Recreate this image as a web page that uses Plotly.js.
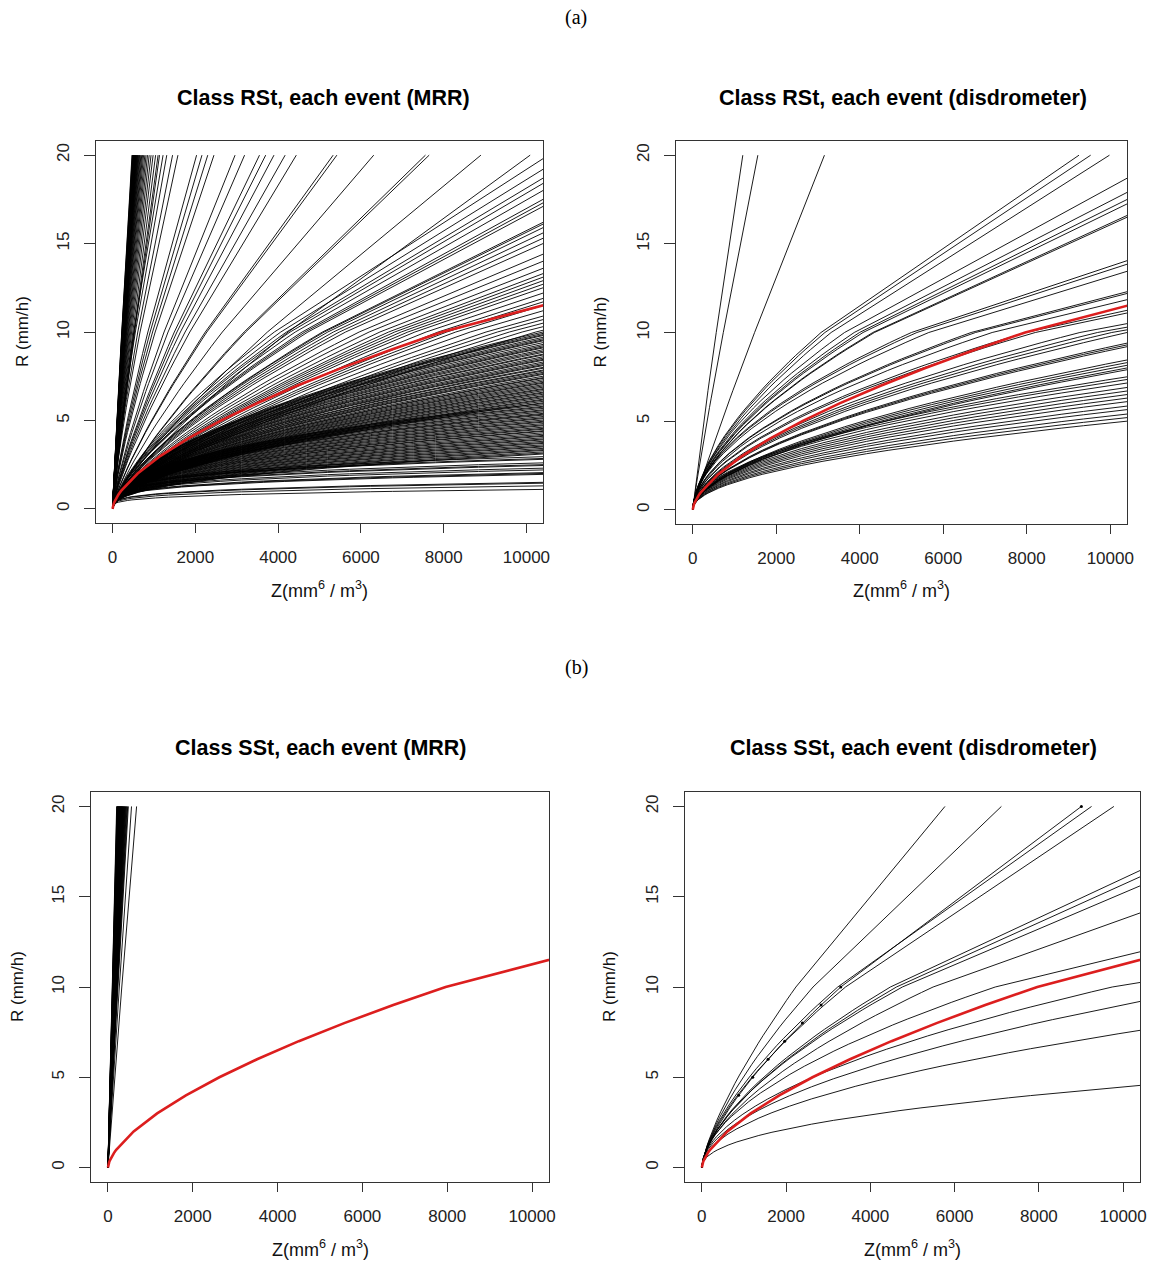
<!DOCTYPE html>
<html><head><meta charset="utf-8">
<script src="https://cdn.plot.ly/plotly-3.0.1.min.js"></script>
<style>body{margin:0;background:#fff}</style>
</head><body><div id="chart" style="width:1152px;height:1271px"></div>
<script>
// ---------- reference relation (red): Z = a R^b (Marshall-Palmer), drawn through these R values ----------
const refA = 200, refB = 1.6;
const refR = [0,0.1,0.2,0.3,0.4,0.5,0.6,0.7,0.8,0.9,1,2,3,4,5,6,7,8,9,10,20];

// ---------- (a) left: Class RSt, each event (MRR) ----------
// Z at which an event curve reaches R = 20
const rstMrrTopSteep = [470,478,486,494,500,506,512,518,524,530,537,544,550,556,563,570,578,586,595,604,614,625,638,652,668,685,705,725,750,780,810,845,885,930,980,1040,1100,1135];
const rstMrrTopMid = [1220,1310,1450,1580,2030,2160,2300,2450,2960,3190,3550,3700,3900,4170,4440,5330,5420,6310,7560,7650,8900,10090];
// R at the right edge of the plot (Z = 10400)
const rstMrrEdgeHigh = [19.8,19.2,18.7,18.4,18.0,17.5,17.3,17.1,16.2,16.1,15.9,15.6,15.3,15.0,14.4,14.0,13.6,13.3,13.1,12.9,12.7,12.5,12.2,11.9,11.7,11.5,11.2,10.9,10.7,10.5,10.3,10.1];
const rstMrrEdgeMid = [10.0,9.92,9.85,9.8,9.7,9.62,9.55,9.5,9.4,9.3,9.22,9.15,9.1,9.0,8.92,8.85,8.75,8.7,8.6,8.52,8.45,8.4,8.3,8.22,8.15,8.1,8.0,7.95,7.85,7.8,7.72,7.65,7.6,7.5,7.42,7.38,7.3,7.22,7.15,7.1,7.02,6.95,6.88,6.8,6.75,6.68,6.6,6.55,6.48,6.4,6.35,6.28,6.2,6.15,6.08,6.0];
const rstMrrEdgeLow = [5.95,5.88,5.8,5.75,5.68,5.6,5.55,5.48,5.4,5.35,5.3,5.22,5.15,5.1,5.02,4.95,4.9,4.82,4.75,4.7,4.62,4.55,4.5,4.42,4.38,4.3,4.22,4.15,4.1,4.02,3.95,3.9,3.82,3.75,3.7,3.62,3.55,3.5,3.42,3.35,3.3,3.22,3.15,3.1];
const rstMrrEdgeBottom = [2.95,2.85,2.8,2.6,2.5,2.45,2.3,2.2,2.05,2.0,1.95,1.5,1.45,1.3,1.1];
// exponent b of Z = a R^b for each group
const rstMrrB = {topSteep:1.09, topMid:1.25, high:1.43, mid:1.8, low:2.35, bottom:4.0};

// ---------- (a) right: Class RSt, each event (disdrometer) ----------
const rstDisTopSteep = [1200,1560,3155];
const rstDisTopMid = [9250,9530,9980];
const rstDisEdgeHigh = [18.7,17.9,17.5,17.25,16.6,16.5];
const rstDisEdgeMid = [14.05,13.85,13.45,12.3,12.2,11.85,11.25,11.1,10.5,10.3,10.15,10.0,9.4,9.3,9.2,8.45,8.3,8.15,8.0,7.9];
const rstDisEdgeLow = [7.5,7.35,7.15,6.9,6.7,6.5,6.3,6.1,5.85,5.65,5.4,5.2,5.0];
const rstDisB = {topSteep:1.09, topMid:1.59, high:1.65, mid:1.78, low:2.0};

// ---------- (b) left: Class SSt, each event (MRR) ----------
const sstMrrTop = [205,212,218,222,228,233,238,242,248,252,258,262,268,272,278,283,288,292,298,303,308,313,318,323,328,334,340,346,352,358,365,372,380,388,396,405,415,425,437,450,465,480,555,675];
const sstMrrB = 1.05;

// ---------- (b) right: Class SSt, each event (disdrometer) ----------
const sstDisTop = [5770,7110,9250,9780];
const sstDisTopB = [1.37,1.43,1.52,1.52];
const sstDisEdge = [16.45,16.1,15.6,14.1,11.95,10.25,9.2,7.6,4.55];
const sstDisEdgeB = [1.61,1.61,1.64,1.67,1.82,1.89,1.92,2.0,2.17];
const sstDisDotA = 117, sstDisDotB = 1.45;
const sstDisDotR = [4,5,6,7,8,9,10,20];

// ---------- drawing helpers ----------
const Z_EDGE = 10400;
const frac = [0,0.0002,0.0005,0.001,0.002,0.003,0.005,0.007,0.01,0.014,0.02,0.027,0.035,0.045,0.06,0.08,0.1,0.13,0.16,0.2,0.25,0.3,0.35,0.4,0.45,0.5,0.55,0.6,0.65,0.7,0.75,0.8,0.85,0.9,0.95,1];
// each event curve: power law up to R = 10, then a straight step to R = 20
function draw(acc, a, b){
  const z10 = a*Math.pow(10,b), zLim = Math.min(z10, Z_EDGE);
  for(const f of frac){ const z=f*zLim; acc.x.push(z); acc.y.push(Math.pow(z/a,1/b)); }
  if(z10 < Z_EDGE){ acc.x.push(a*Math.pow(20,b)); acc.y.push(20); }
  acc.x.push(null); acc.y.push(null);
}
const aTop = (z20,b)=>z20/Math.pow(20,b);
const aEdge = (r,b)=> r<=10 ? Z_EDGE/Math.pow(r,b)
  : Z_EDGE/(Math.pow(10,b) + (r-10)/10*(Math.pow(20,b)-Math.pow(10,b)));
function topCurves(acc, list, b){ list.forEach((z,i)=>{ const bb=Array.isArray(b)?b[i]:b; draw(acc, aTop(z,bb), bb); }); }
function edgeCurves(acc, list, b){ list.forEach((r,i)=>{ const bb=Array.isArray(b)?b[i]:b; draw(acc, aEdge(r,bb), bb); }); }

function blackTrace(acc, k){
  return {x:acc.x, y:acc.y, xaxis:'x'+(k>1?k:''), yaxis:'y'+(k>1?k:''), mode:'lines', type:'scatter',
          line:{color:'#000', width:0.9}, hoverinfo:'skip', showlegend:false};
}
function redTrace(k){
  return {x:refR.map(r=>refA*Math.pow(r,refB)), y:refR, xaxis:'x'+(k>1?k:''), yaxis:'y'+(k>1?k:''),
          mode:'lines', type:'scatter', line:{color:'#dc1e1e', width:2.6}, hoverinfo:'skip', showlegend:false};
}

const p1={x:[],y:[]};
topCurves(p1, rstMrrTopSteep, rstMrrB.topSteep);
topCurves(p1, rstMrrTopMid, rstMrrB.topMid);
edgeCurves(p1, rstMrrEdgeHigh, rstMrrB.high);
edgeCurves(p1, rstMrrEdgeMid, rstMrrB.mid);
edgeCurves(p1, rstMrrEdgeLow, rstMrrB.low);
edgeCurves(p1, rstMrrEdgeBottom, rstMrrB.bottom);

const p2={x:[],y:[]};
topCurves(p2, rstDisTopSteep, rstDisB.topSteep);
topCurves(p2, rstDisTopMid, rstDisB.topMid);
edgeCurves(p2, rstDisEdgeHigh, rstDisB.high);
edgeCurves(p2, rstDisEdgeMid, rstDisB.mid);
edgeCurves(p2, rstDisEdgeLow, rstDisB.low);

const p3={x:[],y:[]};
topCurves(p3, sstMrrTop, sstMrrB);

const p4={x:[],y:[]};
topCurves(p4, sstDisTop, sstDisTopB);
edgeCurves(p4, sstDisEdge, sstDisEdgeB);
draw(p4, sstDisDotA, sstDisDotB);

const dots = {x:sstDisDotR.map(r=>sstDisDotA*Math.pow(r,sstDisDotB)), y:sstDisDotR, xaxis:'x4', yaxis:'y4',
  mode:'markers', type:'scatter', marker:{color:'#000', size:3}, hoverinfo:'skip', showlegend:false};

const data=[blackTrace(p1,1),blackTrace(p2,2),blackTrace(p3,3),blackTrace(p4,4),dots,
            redTrace(1),redTrace(2),redTrace(3),redTrace(4)];

// ---------- layout ----------
const W=1152, H=1271;
const boxes = [
  {l:96, r:543, t:141, b:523},
  {l:676, r:1127, t:141, b:524},
  {l:91, r:549, t:792, b:1182},
  {l:685, r:1140, t:792, b:1182}
];
const xTicks=[0,2000,4000,6000,8000,10000];
const yTicks=[0,5,10,15,20];
const tickFont={family:'Liberation Sans, Arial, sans-serif', size:17, color:'#222'};
const layout={width:W, height:H, margin:{l:0,r:0,t:0,b:0}, paper_bgcolor:'#fff', plot_bgcolor:'#fff',
  showlegend:false, hovermode:false, annotations:[]};
boxes.forEach((bx,i)=>{
  const k=i+1, s=k>1?k:'';
  layout['xaxis'+s]={domain:[bx.l/W, bx.r/W], anchor:'y'+s, range:[-400,10400], tickvals:xTicks,
    ticktext:xTicks.map(String), showgrid:false, zeroline:false, showline:true, mirror:true, linecolor:'#333',
    linewidth:1, ticks:'outside', ticklen:9, tickcolor:'#333', tickfont:tickFont, ticklabelstandoff:10, fixedrange:true};
  layout['yaxis'+s]={domain:[1-bx.b/H, 1-bx.t/H], anchor:'x'+s, range:[-0.8,20.8], tickvals:yTicks,
    ticktext:yTicks.map(String), tickangle:-90, showgrid:false, zeroline:false, showline:true, mirror:true,
    linecolor:'#333', linewidth:1, ticks:'outside', ticklen:11, tickcolor:'#333', tickfont:tickFont,
    ticklabelstandoff:8, fixedrange:true};
});
function ann(text, x, y, opts){
  layout.annotations.push(Object.assign({text, x:x/W, y:1-y/H, xref:'paper', yref:'paper',
    xanchor:'center', yanchor:'middle', showarrow:false,
    font:{family:'Liberation Sans, Arial, sans-serif', size:17, color:'#111'}}, opts||{}));
}
const serif={family:'Liberation Serif, Times New Roman, serif', size:20, color:'#000'};
ann('(a)', 576, 18, {font:serif});
ann('(b)', 576, 668, {font:serif});
const titles=['Class RSt, each event (MRR)','Class RSt, each event (disdrometer)',
              'Class SSt, each event (MRR)','Class SSt, each event (disdrometer)'];
const titleX=[323, 903, 321, 913], titleY=[98,98,748,748];
titles.forEach((t,i)=>ann('<b>'+t+'</b>', titleX[i], titleY[i], {font:{family:'Liberation Sans, Arial, sans-serif', size:21.5, color:'#000'}}));
const yTitleX=[22,600,17,609];
boxes.forEach((bx,i)=>{
  ann('R (mm/h)', yTitleX[i], (bx.t+bx.b)/2, {textangle:-90});
  ann('Z(mm<sup>6</sup> / m<sup>3</sup>)', (bx.l+bx.r)/2, bx.b+66, {font:{family:'Liberation Sans, Arial, sans-serif', size:18, color:'#111'}});
});
Plotly.newPlot('chart', data, layout, {staticPlot:true});
</script></body></html>
